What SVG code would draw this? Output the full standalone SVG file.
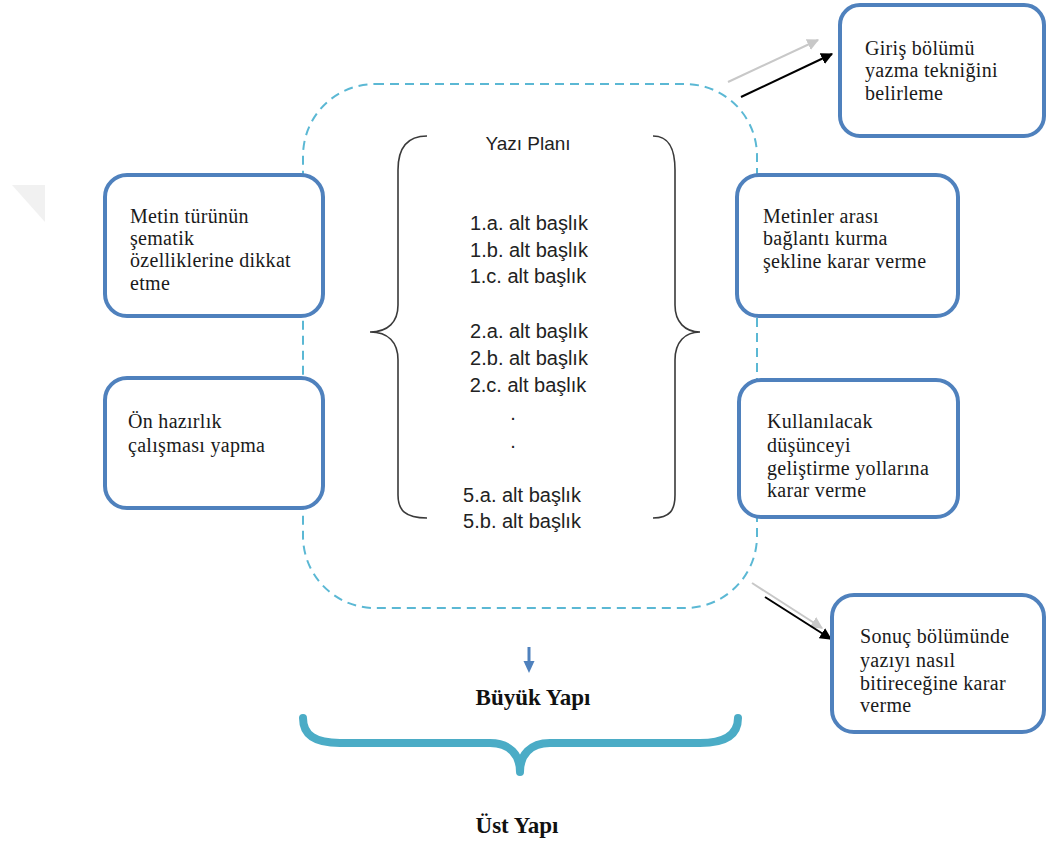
<svg xmlns="http://www.w3.org/2000/svg" width="1046" height="843" viewBox="0 0 1046 843">
<style>
.box{fill:#fff;stroke:#4f81bd;stroke-width:4}
.t{font-family:"Liberation Serif",serif;font-size:20px;letter-spacing:0.3px;fill:#1a1a1a}
.s{font-family:"Liberation Sans",sans-serif;font-size:20px;fill:#222;text-anchor:middle}
.b{font-family:"Liberation Serif",serif;font-size:23px;font-weight:bold;fill:#111;text-anchor:middle}
.brace{fill:none;stroke:#3a3a3a;stroke-width:1.6}
</style>
<defs>
<marker id="ab" viewBox="0 0 10 10" refX="9" refY="5" markerWidth="6" markerHeight="6" orient="auto"><path d="M0,0 L10,5 L0,10 z" fill="#000"/></marker>
<marker id="ag" viewBox="0 0 10 10" refX="9" refY="5" markerWidth="6" markerHeight="6" orient="auto"><path d="M0,0 L10,5 L0,10 z" fill="#c8c8c8"/></marker>
</defs>
<rect width="1046" height="843" fill="#fff"/>
<polygon points="12,185 45,185 45,222" fill="#f1f1f1"/>
<rect id="outline" x="303" y="84" width="454" height="524" rx="72" ry="72" fill="none" stroke="#5bb8d4" stroke-width="2" stroke-dasharray="9,6"/>

<g id="connectors">
<line x1="728" y1="82" x2="818" y2="40" stroke="#c8c8c8" stroke-width="2" marker-end="url(#ag)"/>
<line x1="741" y1="97" x2="832" y2="54" stroke="#000" stroke-width="2" marker-end="url(#ab)"/>
<line x1="752" y1="583" x2="822" y2="628" stroke="#c8c8c8" stroke-width="2" marker-end="url(#ag)"/>
<line x1="765" y1="597" x2="831" y2="639" stroke="#000" stroke-width="2" marker-end="url(#ab)"/>
<line x1="529" y1="647" x2="529" y2="663" stroke="#4f81bd" stroke-width="3"/>
<polygon points="523.5,661 534.5,661 529,673" fill="#4f81bd"/>
</g>

<g id="plan">
<path class="brace" d="M427,136 C405,136 398,150 398,170 L398,305 C398,322 388,332 370,332 C388,332 398,342 398,360 L398,495 C398,510 405,518 427,518"/>
<path class="brace" d="M653,136 C670,136 675,150 675,170 L675,305 C675,322 685,332 700,332 C685,332 675,342 675,360 L675,495 C675,510 670,518 653,518"/>
<text class="s" x="528" y="150" style="font-size:19px">Yazı Planı</text>
<text class="s" x="529" y="230">1.a. alt başlık</text>
<text class="s" x="529" y="257">1.b. alt başlık</text>
<text class="s" x="528" y="283">1.c. alt başlık</text>
<text class="s" x="529" y="338">2.a. alt başlık</text>
<text class="s" x="529" y="365">2.b. alt başlık</text>
<text class="s" x="528" y="392">2.c. alt başlık</text>
<text class="s" x="513" y="420">.</text>
<text class="s" x="513" y="448">.</text>
<text class="s" x="522" y="502">5.a. alt başlık</text>
<text class="s" x="522" y="528">5.b. alt başlık</text>
</g>

<g id="n-giris">
<rect class="box" x="840" y="5" width="204" height="131" rx="20"/>
<text class="t" x="865" y="55">Giriş bölümü</text>
<text class="t" x="865" y="77">yazma tekniğini</text>
<text class="t" x="865" y="100">belirleme</text>
</g>

<g id="n-metin">
<rect class="box" x="105" y="175" width="218" height="141" rx="22"/>
<text class="t" x="130" y="223">Metin türünün</text>
<text class="t" x="130" y="245">şematik</text>
<text class="t" x="130" y="267">özelliklerine dikkat</text>
<text class="t" x="130" y="290">etme</text>
</g>

<g id="n-onhazirlik">
<rect class="box" x="105" y="378" width="218" height="130" rx="22"/>
<text class="t" x="128" y="428">Ön hazırlık</text>
<text class="t" x="128" y="452">çalışması yapma</text>
</g>

<g id="n-metinler">
<rect class="box" x="737" y="175" width="221" height="141" rx="22"/>
<text class="t" x="763" y="223">Metinler arası</text>
<text class="t" x="763" y="245">bağlantı kurma</text>
<text class="t" x="763" y="268">şekline karar verme</text>
</g>

<g id="n-kullanilacak">
<rect class="box" x="739" y="380" width="219" height="137" rx="22"/>
<text class="t" x="767" y="428">Kullanılacak</text>
<text class="t" x="767" y="452">düşünceyi</text>
<text class="t" x="767" y="475">geliştirme yollarına</text>
<text class="t" x="767" y="497">karar verme</text>
</g>

<g id="n-sonuc">
<rect class="box" x="832" y="595" width="212" height="137" rx="22"/>
<text class="t" x="860" y="643">Sonuç bölümünde</text>
<text class="t" x="860" y="667">yazıyı nasıl</text>
<text class="t" x="860" y="690">bitireceğine karar</text>
<text class="t" x="860" y="712">verme</text>
</g>

<g id="n-buyuk">
<text class="b" x="533" y="705">Büyük Yapı</text>
<path d="M303,718 C303,735 315,743 340,743 L490,743 C510,743 520,755 520,772 C520,755 530,743 550,743 L700,743 C725,743 738,735 738,718" fill="none" stroke="#4bacc6" stroke-width="8" stroke-linecap="round" stroke-linejoin="round"/>
</g>

<g id="n-ust">
<text class="b" x="517" y="833">Üst Yapı</text>
</g>
</svg>
